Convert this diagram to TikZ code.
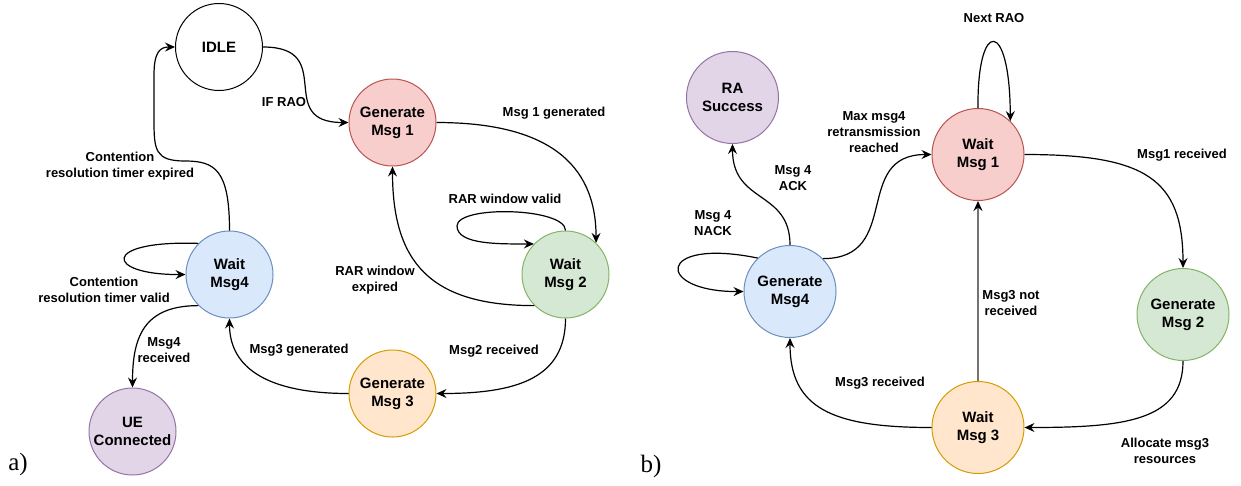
\documentclass[tikz,border=0pt]{standalone}
\usepackage{fontspec}
\setmainfont{Liberation Sans}
\newfontfamily\serifabc{Liberation Serif}
\usetikzlibrary{arrows.meta}
\definecolor{redF}{HTML}{F8CECC}\definecolor{redD}{HTML}{B85450}
\definecolor{grnF}{HTML}{D5E8D4}\definecolor{grnD}{HTML}{82B366}
\definecolor{orgF}{HTML}{FFE6CC}\definecolor{orgD}{HTML}{D79B00}
\definecolor{bluF}{HTML}{DAE8FC}\definecolor{bluD}{HTML}{6C8EBF}
\definecolor{purF}{HTML}{E1D5E7}\definecolor{purD}{HTML}{9673A6}
\tikzset{
  st/.style={circle,draw,line width=1pt,inner sep=0pt,align=center,
    font=\fontsize{15}{18}\selectfont\bfseries},
  stA/.style={st,minimum size=87pt},
  stB/.style={st,minimum size=92pt},
  red/.style={fill=redF,draw=redD},
  grn/.style={fill=grnF,draw=grnD},
  org/.style={fill=orgF,draw=orgD},
  blu/.style={fill=bluF,draw=bluD},
  pur/.style={fill=purF,draw=purD},
  lbl/.style={align=center,inner sep=0pt,font=\fontsize{13}{16}\selectfont\bfseries},
  edge/.style={line width=1.2pt,-{Stealth[length=10pt,width=9pt,inset=3.5pt]}},
}
\begin{document}
\begin{tikzpicture}[x=1pt,y=-1pt]
\useasboundingbox (0,0) rectangle (1241,485);
% ---------- a) ----------
\node[stA] (idle) at (219,47) {IDLE};
\node[stA,red] (g1) at (392.5,122.5) {Generate\\Msg 1};
\node[stA,grn] (w2) at (565.5,274.5) {Wait\\Msg 2};
\node[stA,org] (g3) at (392.5,393.5) {Generate\\Msg 3};
\node[stA,blu] (w4) at (229.5,274.5) {Wait\\Msg4};
\node[stA,pur] (ue) at (132.5,431.5) {UE\\Connected};
\node[inner sep=0pt,font=\serifabc\fontsize{25}{28}\selectfont] (la) at (18,464) {a)};

\draw[edge] (idle.east) .. controls +(75,0) and +(-75,0) .. (g1.west);
\draw[edge] (g1.east) .. controls +(110,0) and +(0,-80) .. (w2.46);
\draw[edge] (w2.north) .. controls +(0,-23) and +(0,-21) .. (457,226)
  .. controls +(0,19) and +(-33,0) .. (w2.136);
\draw[edge] (w2.225) .. controls +(-105,0) and +(0,95) .. (g1.south);
\draw[edge] (w2.south) .. controls +(0,60) and +(80,0) .. (g3.east);
\draw[edge] (g3.west) .. controls +(-80,0) and +(0,50) .. (w4.south);
\draw[edge] (w4.225) .. controls +(-55,0) and +(0,-50) .. (ue.north);
\draw[edge] (w4.135) .. controls (100,240) and (105,275) .. (w4.west);
\draw[edge] (w4.north) .. controls (229.5,170) and (215,161) .. (185,161)
  .. controls (155,161) and (154,150) .. (154,120) -- (154,75)
  .. controls (154,52) and (160,47) .. (idle.west);

\node[lbl] (l1) at (284,102) {IF RAO};
\node[lbl] (l2) at (554,113) {Msg 1 generated};
\node[lbl] (l3) at (505,199) {RAR window valid};
\node[lbl] (l4) at (375,280) {RAR window\\expired};
\node[lbl] (l5) at (494,351) {Msg2 received};
\node[lbl] (l6) at (299,350) {Msg3 generated};
\node[lbl] (l7) at (164,350) {Msg4\\received};
\node[lbl] (l8) at (104,290) {Contention\\resolution timer valid};
\node[lbl] (l9) at (120,166) {Contention\\resolution timer expired};

% ---------- b) ----------
\node[stB,pur] (ra) at (732.5,97.5) {RA\\Success};
\node[stB,red] (w1) at (978,154.5) {Wait\\Msg 1};
\node[stB,grn] (g2) at (1183,314.5) {Generate\\Msg 2};
\node[stB,org] (w3) at (978,427.5) {Wait\\Msg 3};
\node[stB,blu] (g4) at (790,291.5) {Generate\\Msg4};
\node[inner sep=0pt,font=\serifabc\fontsize{25}{28}\selectfont] (lb) at (651,466) {b)};

\draw[edge] (w1.north) .. controls (977,18) and (1010,18) .. (w1.46);
\draw[edge] (w1.east) .. controls +(120,0) and +(0,-90) .. (g2.north);
\draw[edge] (g2.south) .. controls +(0,60) and +(100,0) .. (w3.east);
\draw[line width=1.4pt,draw=black!55,-{Stealth[length=10pt,width=9pt,inset=3.5pt,color=black]}] (w3.north) -- (w1.south);
\draw[edge] (w3.west) .. controls +(-100,0) and +(0,70) .. (g4.south);
\draw[edge] (g4.north) .. controls +(0,-55) and +(0,60) .. (ra.south);
\draw[edge] (g4.134) .. controls (655,237) and (655,292) .. (g4.west);
\draw[edge] (g4.45) .. controls +(80,0) and +(-80,0) .. (w1.west);

\node[lbl] (m1) at (994,18) {Next RAO};
\node[lbl] (m2) at (1182,155) {Msg1 received};
\node[lbl] (m3) at (1165,451) {Allocate msg3\\resources};
\node[lbl] (m4) at (1011,303) {Msg3 not\\received};
\node[lbl] (m5) at (880,383) {Msg3 received};
\node[lbl] (m6) at (793,178) {Msg 4\\ACK};
\node[lbl] (m7) at (713,223) {Msg 4\\NACK};
\node[lbl] (m8) at (874,132) {Max msg4\\retransmission\\reached};
\end{tikzpicture}
\end{document}
